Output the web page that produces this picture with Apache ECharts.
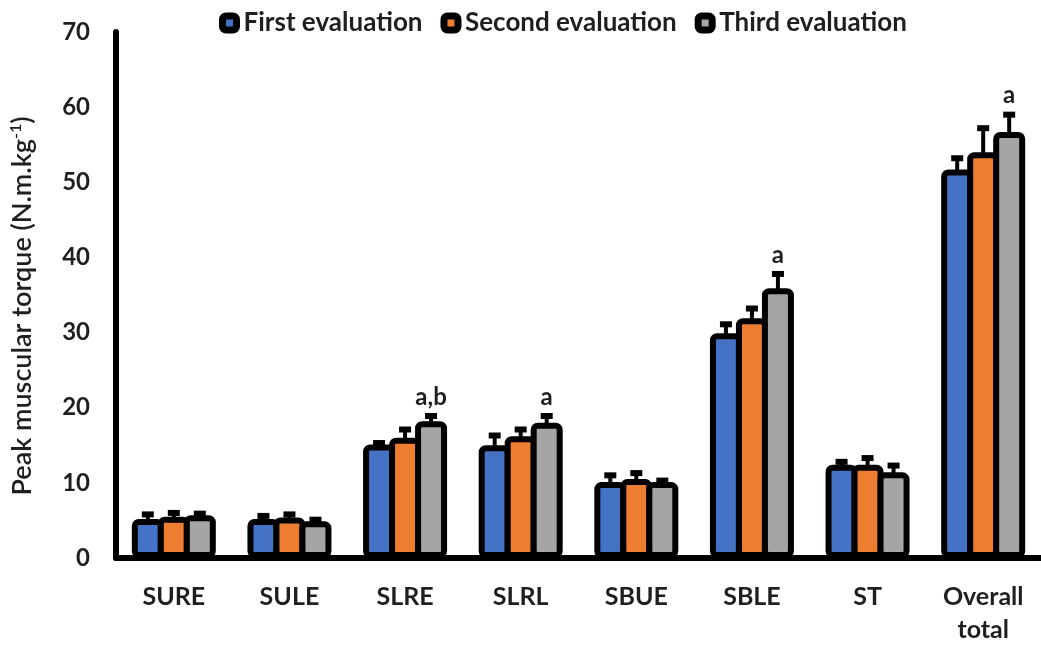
<!DOCTYPE html>
<html>
<head>
<meta charset="utf-8">
<script src="https://cdn.jsdelivr.net/npm/echarts@6/dist/echarts.min.js"></script>
<style>
html,body{margin:0;padding:0;background:#fff;}
#chart{width:1041px;height:650px;}
</style>
</head>
<body>
<div id="chart"></div>
<script>
const categories = ['SURE', 'SULE', 'SLRE', 'SLRL', 'SBUE', 'SBLE', 'ST', 'Overall\ntotal'];
const seriesNames = ['First evaluation', 'Second evaluation', 'Third evaluation'];
const firstEval = [5.2, 5.2, 15.1, 15.0, 10.1, 29.9, 12.4, 51.7];
const secondEval = [5.5, 5.4, 16.0, 16.2, 10.5, 31.9, 12.4, 54.0];
const thirdEval = [5.7, 4.9, 18.2, 18.0, 10.1, 35.9, 11.4, 56.7];
const firstErr = [0.6, 0.4, 0.2, 1.3, 0.9, 1.2, 0.4, 1.5];
const secondErr = [0.5, 0.4, 1.1, 0.9, 0.8, 1.3, 0.9, 3.2];
const thirdErr = [0.2, 0.2, 0.7, 0.9, 0.2, 1.9, 0.9, 2.3];
const thirdSig = ['', '', 'a,b', 'a', '', 'a', '', 'a'];
const yTicks = [0, 10, 20, 30, 40, 50, 60, 70];

const colors = ['#4472C4', '#ED7D31', '#A5A5A5'];
const values = [firstEval, secondEval, thirdEval];
const errs = [firstErr, secondErr, thirdErr];
const FONT = 'Lato';
const TXT = '#1f1f1f';
const BAR_W = 32;
const BORDER = 6;
const STEP = BAR_W - BORDER;

const chart = echarts.init(document.getElementById('chart'));

const barSeries = values.map((v, i) => ({
  name: seriesNames[i],
  type: 'bar',
  data: v,
  barWidth: BAR_W,
  barGap: (-BORDER / BAR_W * 100) + '%',
  z: 3,
  itemStyle: {
    color: colors[i],
    borderColor: '#000',
    borderWidth: BORDER,
    borderRadius: 4
  }
}));

const errSeries = values.map((v, i) => ({
  type: 'custom',
  name: 'err' + i,
  z: 2,
  silent: true,
  data: v.map((val, k) => [k, val, errs[i][k], i === 2 ? thirdSig[k] : '']),
  encode: { x: 0, y: 1 },
  renderItem: function (params, api) {
    const k = api.value(0);
    const val = api.value(1);
    const e = api.value(2);
    const sig = api.value(3);
    const base = api.coord([k, val]);
    const topPt = api.coord([k, val + e]);
    const x = base[0] + (i - 1) * STEP;
    const children = [
      { type: 'line', shape: { x1: x, y1: base[1] + 2, x2: x, y2: topPt[1] }, style: { stroke: '#000', lineWidth: 4 } },
      { type: 'line', shape: { x1: x - 6, y1: topPt[1], x2: x + 6, y2: topPt[1] }, style: { stroke: '#000', lineWidth: 6 } }
    ];
    if (sig) {
      children.push({
        type: 'text', x: x, y: topPt[1] - 7,
        style: { text: sig, fill: TXT, font: 'bold 24px ' + FONT, align: 'center', verticalAlign: 'bottom' }
      });
    }
    return { type: 'group', children: children };
  }
}));

chart.setOption({
  backgroundColor: '#fff',
  animation: false,
  legend: {
    data: seriesNames,
    top: 5,
    left: 214,
    icon: 'roundRect',
    itemWidth: 14,
    itemHeight: 14,
    itemGap: 18,
    itemStyle: { borderColor: '#000', borderWidth: 7 },
    textStyle: { fontFamily: FONT, fontWeight: 'bold', fontSize: 26, color: TXT, padding: [0, 0, 0, 2] }
  },
  grid: { left: 113, right: -5, top: 32, bottom: 92, containLabel: false },
  xAxis: {
    type: 'category',
    data: categories,
    axisLine: { lineStyle: { color: '#000', width: 6 } },
    axisTick: { show: false },
    axisLabel: { fontFamily: FONT, fontWeight: 'bold', fontSize: 25, color: TXT, margin: 22, lineHeight: 33 }
  },
  yAxis: {
    type: 'value',
    min: 0,
    max: 70,
    interval: 10,
    splitLine: { show: false },
    axisLine: { show: true, lineStyle: { color: '#000', width: 6 } },
    axisTick: { show: false },
    axisLabel: {
      fontFamily: FONT, fontWeight: 'bold', fontSize: 24, color: TXT, margin: 26,
      formatter: function (v) { return yTicks.indexOf(v) >= 0 ? String(v) : ''; }
    },
    name: '{a|Peak muscular torque (N.m.kg}{s|-1}{a|)}',
    nameLocation: 'middle',
    nameGap: 80,
    nameRotate: 90,
    nameTextStyle: {
      padding: [0, 22, 0, 0],
      rich: {
        a: { fontFamily: FONT, fontSize: 27, fontWeight: 600, color: TXT, lineHeight: 28, verticalAlign: 'bottom' },
        s: { fontFamily: FONT, fontSize: 16, fontWeight: 600, color: TXT, lineHeight: 28, verticalAlign: 'top', padding: [0, 0, 12, 0] }
      }
    }
  },
  series: errSeries.concat(barSeries)
});
</script>
</body>
</html>
